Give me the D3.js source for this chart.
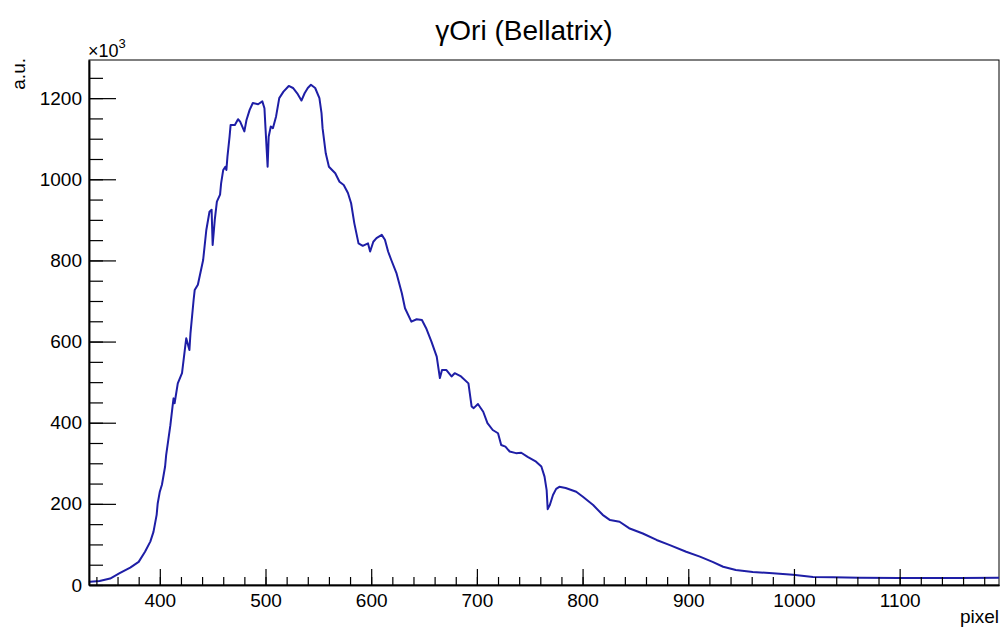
<!DOCTYPE html>
<html>
<head>
<meta charset="utf-8">
<script src="https://cdn.jsdelivr.net/npm/d3@7"></script>
<style>
  html, body { margin: 0; padding: 0; background: #fff; }
  svg { display: block; }
  text { font-family: "Liberation Sans", Arial, Helvetica, sans-serif; fill: #000; }
</style>
</head>
<body>
<svg id="chart" width="1002" height="628"></svg>
<script>
// ---- data (pixel position, intensity in units of 10^3 a.u.) ----
const pixel = [333, 334, 343, 353, 362, 372, 380, 386, 391, 394, 397, 398, 400, 402, 405, 406, 408, 410, 412, 413, 414, 417, 421, 424, 425, 428, 429, 432, 433, 436, 441, 444, 447, 449, 450, 452, 454, 457, 458, 460, 462, 463, 464, 466, 467, 471, 474, 476, 480, 482, 485, 488, 493, 497, 499, 500, 502, 503, 505, 507, 510, 513, 517, 522, 526, 530, 534, 537, 540, 543, 547, 551, 553, 554, 557, 560, 566, 570, 574, 578, 581, 584, 588, 592, 597, 599, 602, 605, 610, 613, 616, 619, 624, 629, 632, 638, 643, 648, 652, 657, 662, 665, 667, 671, 676, 679, 685, 692, 695, 697, 701, 706, 710, 715, 720, 723, 727, 731, 737, 742, 748, 756, 761, 764, 766, 767, 769, 772, 775, 778, 784, 794, 800, 810, 819, 826, 835, 844, 857, 870, 882, 898, 911, 923, 933, 945, 961, 980, 999, 1018, 1037, 1062, 1100, 1157, 1194];
const intensity = [6, 8, 10, 16, 29, 43, 57, 82, 107, 131, 173, 201, 230, 247, 292, 320, 357, 394, 439, 460, 448, 497, 522, 587, 608, 579, 620, 703, 727, 740, 801, 875, 920, 925, 838, 900, 945, 962, 990, 1023, 1031, 1023, 1056, 1105, 1134, 1134, 1148, 1142, 1118, 1146, 1171, 1188, 1185, 1192, 1175, 1126, 1031, 1105, 1130, 1126, 1155, 1200, 1216, 1230, 1225, 1212, 1194, 1212, 1225, 1233, 1225, 1200, 1163, 1126, 1064, 1031, 1015, 994, 986, 966, 941, 892, 842, 836, 842, 822, 846, 855, 863, 851, 822, 801, 768, 719, 682, 649, 655, 653, 633, 600, 563, 510, 530, 530, 514, 522, 514, 497, 440, 436, 446, 427, 399, 382, 374, 345, 341, 329, 325, 326, 316, 304, 292, 267, 234, 187, 197, 222, 237, 242, 239, 230, 218, 197, 173, 160, 156, 140, 127, 111, 99, 82, 70, 57, 45, 37, 32, 29, 25, 20, 19, 18, 17, 17, 18];

const xMajorTicks = [400, 500, 600, 700, 800, 900, 1000, 1100];
const yMajorTicks = [0, 200, 400, 600, 800, 1000, 1200];
const xMinorTicks = d3.range(340, 1194, 20);
const yMinorTicks = d3.range(0, 1294, 50);

const titleText = "\u03B3Ori (Bellatrix)";
const xTitle = "pixel";
const yTitle = "a.u.";

// ---- layout ----
const svg = d3.select("#chart");
const mLeft = 89, mRight = 999, mTop = 60, mBottom = 585;

const x = d3.scaleLinear().domain([333, 1194]).range([mLeft, mRight]);
const y = d3.scaleLinear().domain([0, 1294]).range([mBottom, mTop]);

// frame (top & right)
svg.append("rect")
  .attr("x", mLeft).attr("y", mTop)
  .attr("width", mRight - mLeft).attr("height", mBottom - mTop)
  .attr("fill", "none").attr("stroke", "#000").attr("stroke-width", 1);

// curve
const line = d3.line()
  .x((d, i) => x(pixel[i]))
  .y((d) => y(d));

svg.append("path")
  .datum(intensity)
  .attr("d", line)
  .attr("fill", "none")
  .attr("stroke", "#1e1ea6")
  .attr("stroke-width", 2)
  .attr("stroke-linejoin", "round");

// X axis
const gx = svg.append("g").attr("transform", `translate(0,${mBottom})`);
gx.call(d3.axisBottom(x).tickValues(xMinorTicks).tickSizeInner(-8).tickSizeOuter(0).tickFormat(""));
const gx2 = svg.append("g").attr("transform", `translate(0,${mBottom})`);
gx2.call(d3.axisBottom(x).tickValues(xMajorTicks).tickSizeInner(-16).tickSizeOuter(0).tickPadding(9).tickFormat(d3.format("d")));

// Y axis
const gy = svg.append("g").attr("transform", `translate(${mLeft},0)`);
gy.call(d3.axisLeft(y).tickValues(yMinorTicks).tickSizeInner(-14).tickSizeOuter(0).tickFormat(""));
const gy2 = svg.append("g").attr("transform", `translate(${mLeft},0)`);
gy2.call(d3.axisLeft(y).tickValues(yMajorTicks).tickSizeInner(-27).tickSizeOuter(0).tickPadding(7).tickFormat(d3.format("d")));

svg.selectAll("path.domain").attr("stroke", "#000").attr("stroke-width", 1.5);
svg.selectAll(".tick line").attr("stroke", "#000").attr("stroke-width", 1.2);
svg.selectAll(".tick text").attr("font-size", 19).attr("font-family", "Liberation Sans, Arial, sans-serif").attr("fill", "#000");

// exponent label
const ex = svg.append("text").attr("x", mLeft - 1).attr("y", 57).attr("font-size", 18);
ex.append("tspan").text("\u00D710");
ex.append("tspan").attr("dy", -9).attr("font-size", 13).text("3");

// titles
svg.append("text")
  .attr("x", 524).attr("y", 40)
  .attr("text-anchor", "middle")
  .attr("font-size", 28)
  .text(titleText);

svg.append("text")
  .attr("x", mRight).attr("y", 623)
  .attr("text-anchor", "end")
  .attr("font-size", 19)
  .text(xTitle);

svg.append("text")
  .attr("transform", `translate(25,58) rotate(-90)`)
  .attr("text-anchor", "end")
  .attr("font-size", 19)
  .text(yTitle);
</script>
</body>
</html>
